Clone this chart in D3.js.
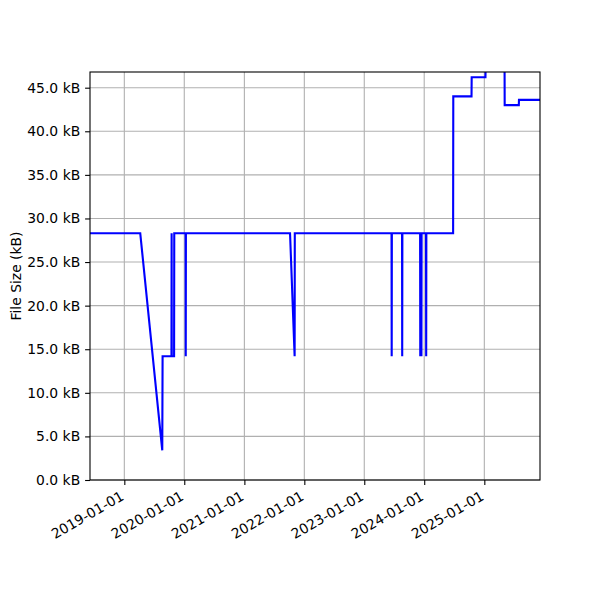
<!DOCTYPE html>
<html lang="en">
<head>
<meta charset="UTF-8">
<title>File Size</title>
<style>
  body { margin: 0; background: #fff; }
  text { font-family: "DejaVu Sans", sans-serif; }
</style>
</head>
<body>
<script src="https://d3js.org/d3.v7.min.js"></script>
<script>
// data: commit dates and file size in kB
const dates = [
    "2018-06-06", "2019-04-08", "2019-08-20", "2019-08-22", "2019-10-15",
    "2019-10-16", "2019-10-17", "2019-10-31", "2019-11-01", "2020-01-09",
    "2020-01-10", "2020-01-11", "2021-10-06", "2021-11-03", "2021-11-04",
    "2023-06-16", "2023-06-17", "2023-06-18", "2023-08-19", "2023-08-20",
    "2023-08-21", "2023-12-07", "2023-12-08", "2023-12-09", "2023-12-14",
    "2023-12-15", "2023-12-16", "2024-01-12", "2024-01-13", "2024-01-14",
    "2024-06-25", "2024-06-26", "2024-10-15", "2024-10-16", "2025-01-08",
    "2025-01-09", "2025-05-04", "2025-05-05", "2025-07-30", "2025-07-31",
    "2025-12-06"
];
const sizes = [
    28.3, 28.3, 3.4, 14.2, 14.2,
    28.3, 14.2, 14.2, 28.3, 28.3,
    14.2, 28.3, 28.3, 14.2, 28.3,
    28.3, 14.2, 28.3, 28.3, 14.2,
    28.3, 28.3, 14.2, 28.3, 28.3,
    14.2, 28.3, 28.3, 14.2, 28.3,
    28.3, 44.0, 44.0, 46.2, 46.2,
    49.0, 49.0, 43.0, 43.0, 43.6,
    43.6
];
const yTicks = [0, 5, 10, 15, 20, 25, 30, 35, 40, 45];
const xTicks = ["2019-01-01", "2020-01-01", "2021-01-01", "2022-01-01", "2023-01-01", "2024-01-01", "2025-01-01"];
const xDomain = ["2018-06-06", "2025-12-06"];
const yDomain = [0, 46.8];

const parse = d3.timeParse("%Y-%m-%d");
const data = dates.map((d, i) => ({ date: parse(d), size: sizes[i] }));

// Set Dimensions
const width = 600, height = 600;
const margin = { top: 72, right: 60, bottom: 120, left: 90 };
const w = width - margin.left - margin.right;
const h = height - margin.top - margin.bottom;
const fs = 13.9; // 10pt at 100 dpi

const svg = d3.select("body").append("svg")
    .attr("width", width)
    .attr("height", height);
const g = svg.append("g")
    .attr("transform", "translate(" + margin.left + "," + margin.top + ")");

const x = d3.scaleTime().domain(xDomain.map(parse)).range([0, w]);
const y = d3.scaleLinear().domain(yDomain).range([h, 0]);

// grid
g.append("g")
    .selectAll("line.xg").data(xTicks.map(parse)).enter()
    .append("line")
    .attr("x1", d => x(d)).attr("x2", d => x(d))
    .attr("y1", 0).attr("y2", h)
    .attr("stroke", "#b0b0b0").attr("stroke-width", 1.1);
g.append("g")
    .selectAll("line.yg").data(yTicks).enter()
    .append("line")
    .attr("x1", 0).attr("x2", w)
    .attr("y1", d => y(d)).attr("y2", d => y(d))
    .attr("stroke", "#b0b0b0").attr("stroke-width", 1.1);

// line, clipped to the axes
svg.append("defs").append("clipPath").attr("id", "clip")
    .append("rect").attr("width", w).attr("height", h);
g.append("path")
    .datum(data)
    .attr("clip-path", "url(#clip)")
    .attr("fill", "none")
    .attr("stroke", "blue")
    .attr("stroke-width", 2.1)
    .attr("d", d3.line().x(d => x(d.date)).y(d => y(d.size)));

// frame
g.append("rect")
    .attr("width", w).attr("height", h)
    .attr("fill", "none").attr("stroke", "black").attr("stroke-width", 1.1);

// x axis
const xAxis = g.append("g")
    .attr("transform", "translate(0," + h + ")")
    .call(d3.axisBottom(x).tickValues(xTicks.map(parse))
        .tickFormat(d3.timeFormat("%Y-%m-%d")).tickSizeOuter(0).tickSize(4.9).tickPadding(4.9));
xAxis.select(".domain").remove();
xAxis.selectAll("line").attr("stroke-width", 1.1);
xAxis.selectAll("text")
    .attr("font-size", fs).attr("font-family", "DejaVu Sans").attr("fill", "black")
    .attr("text-anchor", "end")
    .attr("x", 0).attr("y", 0).attr("dy", 0)
    .attr("transform", "translate(0,19) rotate(-30)");

// y axis
const yAxis = g.append("g")
    .call(d3.axisLeft(y).tickValues(yTicks)
        .tickFormat(d => d3.format(".1f")(d) + " kB").tickSizeOuter(0).tickSize(4.9).tickPadding(4.9));
yAxis.select(".domain").remove();
yAxis.selectAll("line").attr("stroke-width", 1.1);
yAxis.selectAll("text")
    .attr("font-size", fs).attr("font-family", "DejaVu Sans").attr("fill", "black");

// y label
svg.append("text")
    .attr("transform", "translate(21," + (margin.top + h / 2) + ") rotate(-90)")
    .attr("text-anchor", "middle")
    .attr("font-size", fs)
    .text("File Size (kB)");
</script>
</body>
</html>
